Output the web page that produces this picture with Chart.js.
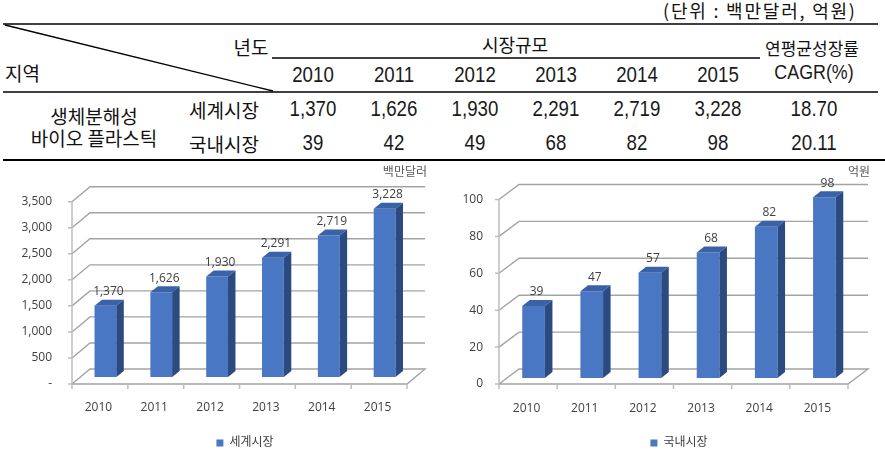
<!DOCTYPE html>
<html><head><meta charset="utf-8">
<script src="https://cdn.jsdelivr.net/npm/chart.js@4.4.1/dist/chart.umd.min.js"></script>
<style>
html,body{margin:0;padding:0;background:#fff;}
#page{position:relative;width:885px;height:456px;overflow:hidden;background:#fff;}
.t{position:absolute;white-space:nowrap;transform:translate(-50%,-50%);color:#111;line-height:1;}
.n{position:absolute;white-space:nowrap;transform:translate(-50%,-50%) scaleX(0.85);color:#1a1a1a;line-height:1;
   font-family:"Liberation Sans",Arial,sans-serif;font-size:22px;}
.r{position:absolute;white-space:nowrap;transform:translateY(-50%);color:#111;line-height:1;}
.ko{font-family:"Noto Sans CJK KR",sans-serif;font-size:19px;}
.box{position:absolute;}
</style></head><body>
<div id="page">
<svg width="885" height="456" style="position:absolute;left:0;top:0">
 <line x1="3" y1="24" x2="878" y2="24" stroke="#000" stroke-width="1.6"/>
 <line x1="5" y1="25" x2="273" y2="91" stroke="#000" stroke-width="1.3"/>
 <line x1="272" y1="58" x2="760" y2="58" stroke="#000" stroke-width="1.4"/>
 <line x1="3" y1="92" x2="878" y2="92" stroke="#000" stroke-width="1.6"/>
 <line x1="3" y1="160" x2="885" y2="160" stroke="#000" stroke-width="2"/>
</svg>
<div id="table"></div>
<div class="box" style="left:0;top:162px;width:440px;height:294px"><canvas id="c1"></canvas></div>
<div class="box" style="left:440px;top:162px;width:445px;height:294px"><canvas id="c2"></canvas></div>
</div>
<script>
// ---- data ----
const years = ['2010','2011','2012','2013','2014','2015'];
const tableWorld = [1370,1626,1930,2291,2719,3228];
const tableDomestic = [39,42,49,68,82,98];
const tableCagr = ['18.70','20.11'];
const chartWorld = [1370,1626,1930,2291,2719,3228];
const chartDomestic = [39,47,57,68,82,98];
const worldLabel = '세계시장';
const domesticLabel = '국내시장';
const worldUnit = '백만달러';
const domesticUnit = '억원';
const worldTicks = {min:0, max:3500, step:500};
const domesticTicks = {min:0, max:100, step:20};

// ---- table ----
const fmt = v => v.toLocaleString('en-US');
const T = document.getElementById('table');
function put(text, cls, x, y, extra){
  const d = document.createElement('div');
  d.className = cls; d.textContent = text;
  d.style.left = x + 'px'; d.style.top = y + 'px';
  if (extra) Object.assign(d.style, extra);
  T.appendChild(d);
  return d;
}
const colX = [313,394,475,556,637,718];
put('(단위 : 백만달러, 억원)', 'r ko', 663, 10, {fontSize:'18px', letterSpacing:'1.8px'});
put('년도', 't ko', 251, 46);
put('지역', 'r ko', 5, 72);
put('시장규모', 't ko', 515, 44, {fontSize:'18px'});
put('연평균성장률', 't ko', 812, 47, {fontSize:'17px'});
put('CAGR(%)', 'n', 814, 71, {fontSize:'21px'});
years.forEach((y,i)=>put(y, 'n', colX[i], 75));
put('생체분해성', 't ko', 94, 115);
put('바이오  플라스틱', 't ko', 94, 137);
put(worldLabel, 't ko', 224, 109);
put(domesticLabel, 't ko', 224, 143);
tableWorld.forEach((v,i)=>put(fmt(v), 'n', colX[i], 109));
tableDomestic.forEach((v,i)=>put(fmt(v), 'n', colX[i], 143));
put(tableCagr[0], 'n', 814, 109);
put(tableCagr[1], 'n', 814, 143);

// ---- charts ----
const FONT = '"Open Sans","Noto Sans CJK KR",sans-serif';
Chart.defaults.font.family = FONT;
Chart.defaults.font.size = 12;
Chart.defaults.color = '#404040';

const bar3d = {
  id:'bar3d',
  beforeDatasetsDraw(chart, args, o){
    const {ctx, chartArea:ca, scales:{x, y}} = chart;
    ctx.save();
    ctx.strokeStyle = o.gridColor; ctx.lineWidth = 1.4;
    y.ticks.forEach(t=>{
      const yb = y.getPixelForValue(t.value);
      ctx.beginPath();
      ctx.moveTo(ca.left+o.fdx, yb+o.fdy);
      ctx.lineTo(ca.left+o.bdx, yb+o.bdy);
      ctx.lineTo(ca.right+o.bdx, yb+o.bdy);
      if (t.value === y.min){
        ctx.lineTo(ca.right+o.fdx, yb+o.fdy);
        ctx.lineTo(ca.left+o.fdx, yb+o.fdy);
      }
      ctx.stroke();
    });
    const y0 = y.getPixelForValue(y.min)+o.fdy, y1 = y.getPixelForValue(y.max)+o.fdy;
    ctx.strokeStyle = o.axisColor; ctx.lineWidth = 1.5;
    ctx.beginPath();
    ctx.moveTo(ca.left+o.fdx, y1); ctx.lineTo(ca.left+o.fdx, y0+4);
    y.ticks.forEach(t=>{
      const yy = y.getPixelForValue(t.value)+o.fdy;
      ctx.moveTo(ca.left+o.fdx-4, yy); ctx.lineTo(ca.left+o.fdx, yy);
    });
    const n = x.ticks.length, cw = (ca.right-ca.left)/n;
    for (let i=0;i<=n;i++){
      const xx = ca.left + i*cw + o.fdx;
      ctx.moveTo(xx, y0); ctx.lineTo(xx, y0+5);
    }
    ctx.stroke();
    ctx.restore();
  },
  afterDatasetsDraw(chart, args, o){
    const ctx = chart.ctx, ca = chart.chartArea;
    ctx.save();
    const data = chart.data.datasets[0].data;
    chart.getDatasetMeta(0).data.forEach((el,i)=>{
      const {x,y,base,width} = el.getProps(['x','y','base','width'], true);
      const l = x-width/2, r = x+width/2;
      ctx.fillStyle = o.topColor;
      ctx.beginPath(); ctx.moveTo(l,y); ctx.lineTo(l+o.dx,y+o.dy); ctx.lineTo(r+o.dx,y+o.dy); ctx.lineTo(r,y); ctx.closePath(); ctx.fill();
      ctx.fillStyle = o.sideColor;
      ctx.beginPath(); ctx.moveTo(r,y); ctx.lineTo(r+o.dx,y+o.dy); ctx.lineTo(r+o.dx,base+o.dy); ctx.lineTo(r,base); ctx.closePath(); ctx.fill();
      ctx.fillStyle = '#404040'; ctx.font = '12px ' + FONT;
      ctx.textAlign = 'center'; ctx.textBaseline = 'middle';
      ctx.fillText(fmt(data[i]), x+3, y-14);
    });
    ctx.fillStyle = '#595959'; ctx.font = '12px ' + FONT;
    ctx.textAlign = 'right'; ctx.textBaseline = 'middle';
    ctx.fillText(o.unit, ca.right + o.bdx + 2, 11);
    ctx.restore();
  }
};

function makeChart(id, label, values, tk, unit, geo){
  return new Chart(document.getElementById(id), {
    type:'bar',
    data:{labels:years, datasets:[{label, data:values, backgroundColor:'#4a77c4', borderWidth:0,
      barPercentage:0.39, categoryPercentage:1}]},
    options:{
      responsive:true, maintainAspectRatio:false, animation:false,
      layout:{padding:{left:0, right:geo.padR, top:geo.padT, bottom:-3}},
      scales:{
        x:{grid:{display:false, drawTicks:false}, border:{display:false},
           ticks:{padding:geo.xPad, labelOffset:-7, font:{size:12}, color:'#404040'},
           afterFit:s=>{s.height = geo.xH;}},
        y:{min:tk.min, max:tk.max, grid:{display:false, drawTicks:false}, border:{display:false},
           ticks:{stepSize:tk.step, padding:geo.yPad, labelOffset:geo.fdy, color:'#404040',
             callback:v=> v===0 && geo.dash ? '-' : fmt(v)},
           afterFit:s=>{s.width = geo.yW;}}
      },
      plugins:{
        legend:{position:'bottom', fullSize:false, labels:{boxWidth:7, boxHeight:7, padding:8, color:'#404040', font:{size:12}}},
        tooltip:{enabled:false},
        bar3d:{fdx:-5.5, fdy:geo.fdy, bdx:geo.bdx, bdy:geo.bdy, dx:7.5, dy:-6,
          gridColor:'#a3a3a3', axisColor:'#bdbdbd', topColor:'#3a62a8', sideColor:'#2b4a80', unit}
      }
    },
    plugins:[bar3d]
  });
}

makeChart('c1', worldLabel, chartWorld, worldTicks, worldUnit,
  {padR:27.5, padT:30.5, xH:52, xPad:23, yW:77.5, yPad:25.5, fdy:7, bdx:12.5, bdy:-8, dash:true});
makeChart('c2', domesticLabel, chartDomestic, domesticTicks, domesticUnit,
  {padR:31.5, padT:31.5, xH:51, xPad:23, yW:64.5, yPad:21.5, fdy:6, bdx:14.5, bdy:-9, dash:false});
</script>
</body></html>
